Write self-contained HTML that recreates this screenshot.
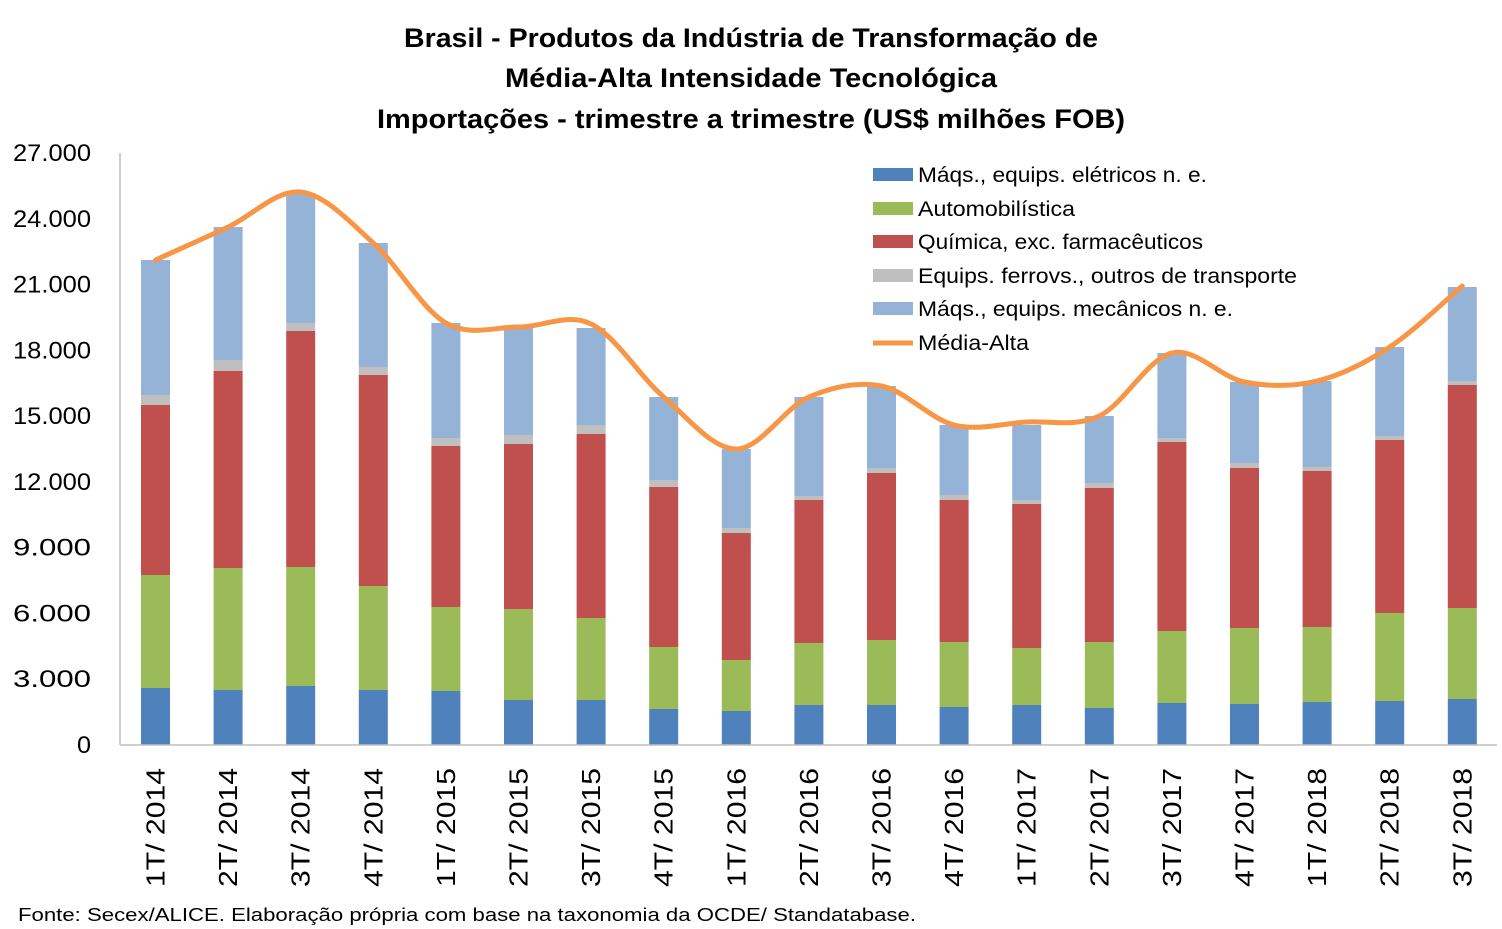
<!DOCTYPE html>
<html><head><meta charset="utf-8"><style>
body{margin:0;background:#fff;}
svg{display:block;font-family:"Liberation Sans",sans-serif;}
</style></head><body>
<svg id="s" width="1502" height="929" xmlns="http://www.w3.org/2000/svg">
<rect width="1502" height="929" fill="#fff"/>
<g font-weight="bold" font-size="27" text-anchor="middle" fill="#000">
<text x="751" y="47" textLength="694" lengthAdjust="spacingAndGlyphs">Brasil - Produtos da Indústria de Transformação de</text>
<text x="751" y="87" textLength="492" lengthAdjust="spacingAndGlyphs">Média-Alta Intensidade Tecnológica</text>
<text x="751" y="128" textLength="748" lengthAdjust="spacingAndGlyphs">Importações - trimestre a trimestre (US$ milhões FOB)</text>
</g>
<g id="bars"></g>
<line x1="120" y1="153" x2="120" y2="745" stroke="#bfbfbf" stroke-width="1.5"/>
<line x1="120" y1="745" x2="1497" y2="745" stroke="#bfbfbf" stroke-width="1.5"/>
<g id="yt" font-size="24" text-anchor="end" fill="#000"></g>
<g id="xt" font-size="26" fill="#000"></g>
<path id="ln" fill="none" stroke="#F79646" stroke-width="5" stroke-linecap="round"/>
<g font-size="21" fill="#000" lengthAdjust="spacingAndGlyphs">
<rect x="873" y="168" width="40" height="13" fill="#4F81BD"/><text x="918" y="182" textLength="289" lengthAdjust="spacingAndGlyphs">Máqs., equips. elétricos n. e.</text>
<rect x="873" y="202" width="40" height="13" fill="#9BBB59"/><text x="918" y="216" textLength="157" lengthAdjust="spacingAndGlyphs">Automobilística</text>
<rect x="873" y="235" width="40" height="13" fill="#C0504D"/><text x="918" y="249" textLength="285" lengthAdjust="spacingAndGlyphs">Química, exc. farmacêuticos</text>
<rect x="873" y="269" width="40" height="13" fill="#BFBFBF"/><text x="918" y="283" textLength="379" lengthAdjust="spacingAndGlyphs">Equips. ferrovs., outros de transporte</text>
<rect x="873" y="302" width="40" height="13" fill="#95B3D7"/><text x="918" y="316" textLength="315" lengthAdjust="spacingAndGlyphs">Máqs., equips. mecânicos  n. e.</text>
<line x1="873" y1="343" x2="913" y2="343" stroke="#F79646" stroke-width="5"/><text x="918" y="350" textLength="111" lengthAdjust="spacingAndGlyphs">Média-Alta</text>
</g>
<text x="18" y="921" font-size="18" fill="#000" textLength="898" lengthAdjust="spacingAndGlyphs">Fonte: Secex/ALICE. Elaboração própria com base na taxonomia da OCDE/ Standatabase.</text>
</svg>
<script>
var ns="http://www.w3.org/2000/svg";
var d=[[688,575,405,395,260],[690,568,371,360,227],[686,567,331,323,193],[690,586,375,367,243],[691,607,446,438,323],[700,609,444,435,327],[700,618,434,425,328],[709,647,487,480,397],[711,660,533,528,449],[705,643,500,496,397],[705,640,473,468,386],[707,642,500,495,425],[705,648,504,500,425],[708,642,488,483,416],[703,631,442,438,353],[704,628,468,463,382],[702,627,471,467,381],[701,613,440,436,347],[699,608,385,381,287]];
var lv=[260,227,192,243,323,327,324,397,449,397,386,425,422,416,353,382,381,347,286];
var cols=["#4F81BD","#9BBB59","#C0504D","#BFBFBF","#95B3D7"];
var labs=["1T/ 2014","2T/ 2014","3T/ 2014","4T/ 2014","1T/ 2015","2T/ 2015","3T/ 2015","4T/ 2015","1T/ 2016","2T/ 2016","3T/ 2016","4T/ 2016","1T/ 2017","2T/ 2017","3T/ 2017","4T/ 2017","1T/ 2018","2T/ 2018","3T/ 2018"];
var B=document.getElementById("bars"),X=document.getElementById("xt"),Y=document.getElementById("yt");
function el(t,a,p){var e=document.createElementNS(ns,t);for(var k in a)e.setAttribute(k,a[k]);p.appendChild(e);return e;}
var pts=[];
for(var i=0;i<19;i++){var cx=155.5+i*72.6;var prev=745;
 for(var j=0;j<5;j++){var t=d[i][j];el("rect",{x:cx-14.5,y:t,width:29,height:prev-t,fill:cols[j]},B);prev=t;}
 var tx=el("text",{transform:"translate("+(cx+9)+",887) rotate(-90)",textLength:119,lengthAdjust:"spacingAndGlyphs"},X);tx.textContent=labs[i];
 pts.push([cx,lv[i]]);}
for(var k=0;k<=9;k++){var y=745-k*65.78;var t=el("text",{x:91,y:y+8,textLength:k?78:14,lengthAdjust:"spacingAndGlyphs"},Y);t.textContent=k?(k*3)+".000":"0";}
var p="M"+pts[0][0]+","+pts[0][1];
for(var i=0;i<18;i++){var p0=pts[Math.max(i-1,0)],p1=pts[i],p2=pts[i+1],p3=pts[Math.min(i+2,18)];
 var c1=[p1[0]+(p2[0]-p0[0])/6,p1[1]+(p2[1]-p0[1])/6],c2=[p2[0]-(p3[0]-p1[0])/6,p2[1]-(p3[1]-p1[1])/6];
 p+=" C"+c1+" "+c2+" "+p2;}
document.getElementById("ln").setAttribute("d",p);
</script>
</body></html>
